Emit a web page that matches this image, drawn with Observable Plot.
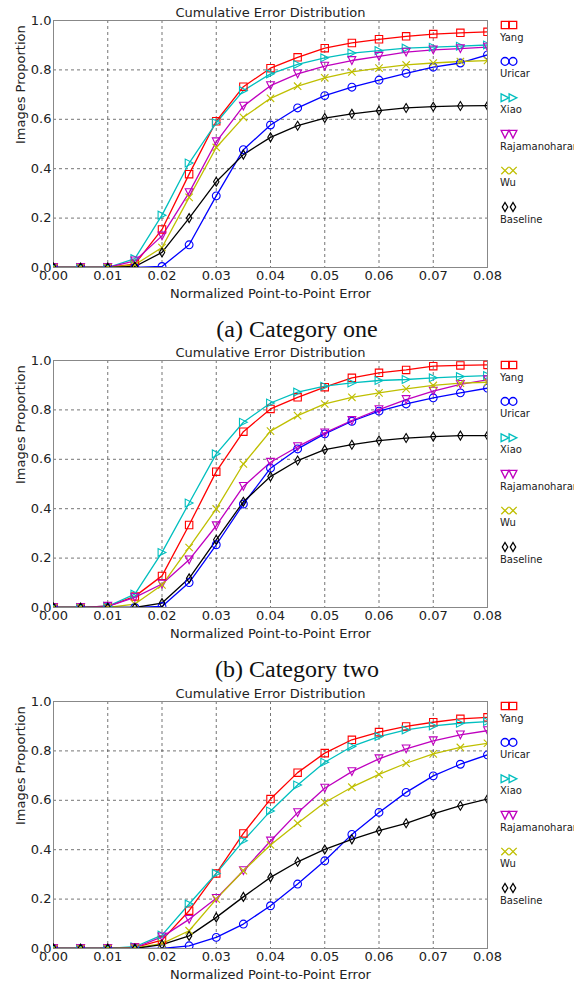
<!DOCTYPE html>
<html><head><meta charset="utf-8">
<script src="https://cdn.jsdelivr.net/npm/d3@7"></script>
<script src="https://cdn.jsdelivr.net/npm/@observablehq/plot@0.6"></script>
<style>
body{margin:0;background:#fff;}
#root{position:relative;width:574px;height:983px;overflow:hidden;background:#fff;}
.panel{position:absolute;left:0;}
.cap{position:absolute;left:10px;width:574px;text-align:center;font-family:"Liberation Serif","Times New Roman",serif;font-size:24px;line-height:24px;color:#111;}
</style></head><body><div id="root"></div>
<script>
// ---- data ----
const errors = [0,0.005,0.01,0.015,0.02,0.025,0.03,0.035,0.04,0.045,0.05,0.055,0.06,0.065,0.07,0.075,0.08];
const methods = ["Yang","Uricar","Xiao","Rajamanoharan","Wu","Baseline"];
const colors = ["#ff0000","#0000ff","#00bfbf","#bf00bf","#bfbf00","#000000"];
const xTicks = [0,0.01,0.02,0.03,0.04,0.05,0.06,0.07,0.08];
const yTicks = [0,0.2,0.4,0.6,0.8,1.0];
const captions = ["(a) Category one","(b) Category two"];

const oneYang     = [0,0,0,0.014,0.154,0.378,0.592,0.732,0.807,0.851,0.888,0.909,0.924,0.936,0.945,0.950,0.954];
const oneUricar   = [0,0,0,0,0.004,0.092,0.290,0.477,0.577,0.646,0.696,0.730,0.759,0.786,0.811,0.828,0.861];
const oneXiao     = [0,0,0,0.036,0.212,0.423,0.586,0.716,0.784,0.822,0.849,0.868,0.878,0.888,0.892,0.896,0.901];
const oneRaj      = [0,0,0,0.027,0.128,0.303,0.509,0.653,0.736,0.784,0.815,0.838,0.855,0.872,0.881,0.886,0.892];
const oneWu       = [0,0,0,0.011,0.081,0.284,0.486,0.608,0.685,0.734,0.768,0.792,0.807,0.820,0.828,0.834,0.838];
const oneBaseline = [0,0,0,0.004,0.061,0.200,0.347,0.457,0.527,0.574,0.605,0.622,0.635,0.646,0.651,0.654,0.655];

const twoYang     = [0,0,0.005,0.045,0.128,0.334,0.550,0.712,0.804,0.851,0.892,0.930,0.950,0.962,0.977,0.980,0.982];
const twoUricar   = [0,0,0,0,0.004,0.101,0.254,0.419,0.564,0.642,0.703,0.754,0.795,0.824,0.849,0.869,0.888];
const twoXiao     = [0,0,0.005,0.054,0.223,0.423,0.622,0.750,0.828,0.872,0.896,0.909,0.919,0.923,0.930,0.935,0.939];
const twoRaj      = [0,0,0.005,0.041,0.095,0.193,0.331,0.490,0.588,0.651,0.707,0.757,0.801,0.842,0.876,0.903,0.922];
const twoWu       = [0,0,0,0.014,0.091,0.243,0.399,0.581,0.714,0.777,0.824,0.851,0.869,0.885,0.899,0.908,0.912];
const twoBaseline = [0,0,0,0,0.018,0.118,0.274,0.428,0.530,0.595,0.639,0.659,0.676,0.686,0.692,0.696,0.696];

const threeYang     = [0,0,0,0.004,0.034,0.153,0.304,0.466,0.605,0.712,0.791,0.845,0.876,0.899,0.916,0.930,0.936];
const threeUricar   = [0,0,0,0,0,0.011,0.045,0.099,0.173,0.261,0.355,0.462,0.551,0.632,0.699,0.746,0.784];
const threeXiao     = [0,0,0,0.007,0.054,0.180,0.304,0.436,0.557,0.662,0.754,0.818,0.858,0.885,0.901,0.912,0.919];
const threeRaj      = [0,0,0,0.003,0.047,0.118,0.203,0.315,0.435,0.550,0.649,0.716,0.768,0.808,0.841,0.865,0.882];
const threeWu       = [0,0,0,0.002,0.020,0.072,0.200,0.315,0.419,0.507,0.591,0.653,0.705,0.750,0.788,0.814,0.831];
const threeBaseline = [0,0,0,0,0.016,0.051,0.126,0.209,0.288,0.351,0.401,0.442,0.477,0.507,0.545,0.578,0.605];

const panels = [
  [oneYang, oneUricar, oneXiao, oneRaj, oneWu, oneBaseline],
  [twoYang, twoUricar, twoXiao, twoRaj, twoWu, twoBaseline],
  [threeYang, threeUricar, threeXiao, threeRaj, threeWu, threeBaseline]
];

// ---- marker shapes (matplotlib-like) ----
const rad = s => Math.sqrt(s / Math.PI);
const symSquare = {draw(c, s){const r = rad(s)*0.95; c.moveTo(-r,-r); c.lineTo(r,-r); c.lineTo(r,r); c.lineTo(-r,r); c.closePath();}};
const symCircle = {draw(c, s){const r = rad(s); c.moveTo(r,0); c.arc(0,0,r,0,2*Math.PI);}};
const symTriRight = {draw(c, s){const r = rad(s); c.moveTo(r,0); c.lineTo(-r,-r); c.lineTo(-r,r); c.closePath();}};
const symTriDown = {draw(c, s){const r = rad(s); c.moveTo(0,r); c.lineTo(-r,-r); c.lineTo(r,-r); c.closePath();}};
const symX = {draw(c, s){const r = rad(s)*0.95; c.moveTo(-r,-r); c.lineTo(r,r); c.moveTo(-r,r); c.lineTo(r,-r);}};
const symThinDiamond = {draw(c, s){const r = rad(s)*1.15; c.moveTo(0,-r); c.lineTo(0.6*r,0); c.lineTo(0,r); c.lineTo(-0.6*r,0); c.closePath();}};
const symbols = [symSquare, symCircle, symTriRight, symTriDown, symX, symThinDiamond];

const root = document.getElementById("root");
const panelTops = [0, 340, 681];
const font = "DejaVu Sans, sans-serif";

panels.forEach((series, p) => {
  const data = [];
  methods.forEach((m, i) => errors.forEach((e, j) => data.push({method: m, x: e, y: series[i][j]})));
  const grid = {stroke: "#333", strokeOpacity: 0.85, strokeWidth: 0.8, strokeDasharray: "3,3"};
  const svg = Plot.plot({
    width: 574, height: 305,
    marginTop: 20, marginBottom: 38, marginLeft: 53, marginRight: 87,
    style: {fontFamily: font, fontSize: "13px", color: "#222", background: "transparent", overflow: "visible"},
    x: {domain: [0, 0.08], label: null},
    y: {domain: [0, 1], label: null},
    color: {domain: methods, range: colors},
    symbol: {domain: methods, range: symbols},
    marks: [
      Plot.gridX(xTicks, grid),
      Plot.gridY(yTicks, grid),
      Plot.frame({stroke: "#888", strokeWidth: 1}),
      Plot.axisX(xTicks, {tickSize: 0, tickPadding: 3, tickFormat: d3.format(".2f"), label: null, fill: "#222"}),
      Plot.axisY(yTicks, {tickSize: 0, tickPadding: 2, tickFormat: d3.format(".1f"), label: null, fill: "#222"}),
      Plot.line(data, {x: "x", y: "y", z: "method", stroke: "method", strokeWidth: 1.3, clip: true}),
      Plot.dot(data, {x: "x", y: "y", stroke: "method", symbol: "method", r: 3.9, fill: "none", strokeWidth: 1.1, clip: true}),
      Plot.text(["Cumulative Error Distribution"], {text: d => d, frameAnchor: "top", dy: -8, lineAnchor: "middle", fill: "#222", fontSize: 13}),
      Plot.text(["Normalized Point-to-Point Error"], {text: d => d, frameAnchor: "bottom", dy: 26, lineAnchor: "middle", fill: "#222", fontSize: 13}),
      Plot.text(["Images Proportion"], {text: d => d, frameAnchor: "left", dx: -33, rotate: -90, lineAnchor: "middle", fill: "#222", fontSize: 13})
    ]
  });
  // legend at the right, outside the axes: two markers side by side, label below
  const g = d3.select(svg).append("g").attr("font-family", font).attr("font-size", 10).attr("text-anchor", "start");
  methods.forEach((m, i) => {
    const y0 = 25 + i * 36.4;
    [505, 513].forEach(x => g.append("path")
      .attr("d", d3.symbol(symbols[i], 3.9 * 3.9 * Math.PI)())
      .attr("transform", `translate(${x},${y0})`)
      .attr("fill", "none").attr("stroke", colors[i]).attr("stroke-width", 1.3));
    g.append("text").attr("x", 500).attr("y", y0 + 12).attr("dy", "0.35em")
      .attr("text-anchor", "start").attr("fill", "#222").text(m);
  });
  const wrap = document.createElement("div");
  wrap.className = "panel";
  wrap.style.top = panelTops[p] + "px";
  wrap.appendChild(svg);
  root.appendChild(wrap);
  if (captions[p]) {
    const cap = document.createElement("div");
    cap.className = "cap";
    cap.style.top = (panelTops[p] + 317) + "px";
    cap.textContent = captions[p];
    root.appendChild(cap);
  }
});
</script>
</body></html>
